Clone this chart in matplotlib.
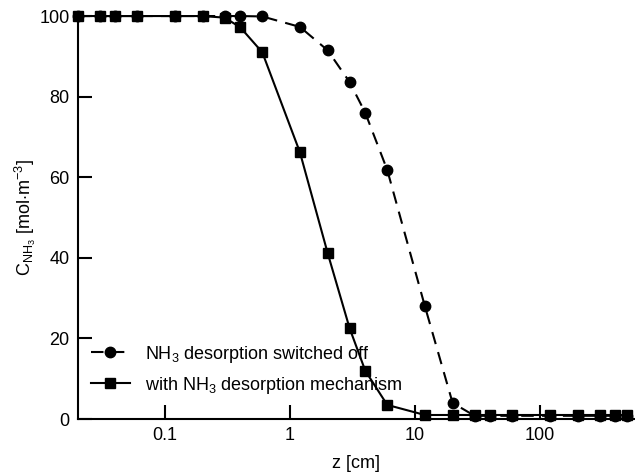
import matplotlib
matplotlib.use("Agg")
import matplotlib.pyplot as plt

plt.rcParams['font.family'] = ['Liberation Sans', 'DejaVu Sans']
plt.rcParams['mathtext.fontset'] = 'custom'
plt.rcParams['mathtext.rm'] = 'Liberation Sans'
plt.rcParams['mathtext.it'] = 'Liberation Sans'

# desorption switched off (dashed, circles)
z_off = [0.02, 0.03, 0.04, 0.06, 0.12, 0.2, 0.3, 0.4, 0.6, 1.2, 2, 3, 4, 6,
         12, 20, 30, 40, 60, 120, 200, 300, 400, 500]
c_off = [100, 100, 100, 100, 100, 100, 100, 100, 99.9, 97.3, 91.5, 83.6, 76.0, 61.8,
         28.0, 4.0, 0.8, 0.8, 0.8, 0.8, 0.8, 0.8, 0.8, 0.8]

# with desorption mechanism (solid, squares)
z_on = [0.02, 0.03, 0.04, 0.06, 0.12, 0.2, 0.3, 0.4, 0.6, 1.2, 2, 3, 4, 6,
        12, 20, 30, 40, 60, 120, 200, 300, 400, 500]
c_on = [100, 100, 100, 100, 100, 100, 99.6, 97.2, 91.0, 66.2, 41.2, 22.5, 12.0, 3.5,
        1.0, 1.0, 1.0, 1.0, 1.0, 1.0, 1.0, 1.0, 1.0, 1.0]

fig = plt.figure(figsize=(6.35, 4.76), dpi=100)
ax = fig.add_axes([0.1228, 0.1197, 0.877, 0.8466])

ax.plot(z_off, c_off, color="black", linestyle=(0, (6, 4)), linewidth=1.5,
        marker="o", markersize=7.5, clip_on=False, zorder=2,
        label="NH$_3$ desorption switched off")
ax.plot(z_on, c_on, color="black", linestyle="-", linewidth=1.5,
        marker="s", markersize=7, clip_on=False, zorder=3,
        label="with NH$_3$ desorption mechanism")

ax.set_xscale("log")
ax.set_xlim(0.0201, 575)
ax.set_ylim(0, 100)
ax.set_xticks([0.1, 1, 10, 100])
ax.set_xticklabels(["0.1", "1", "10", "100"])
ax.set_yticks([0, 20, 40, 60, 80, 100])
ax.minorticks_off()

ax.spines["top"].set_visible(False)
ax.spines["right"].set_visible(False)
for s in ["left", "bottom"]:
    ax.spines[s].set_linewidth(1.5)
ax.tick_params(direction="in", length=10, width=1.5, labelsize=13, pad=6)

ax.set_xlabel("z [cm]", fontsize=13, labelpad=8)
ax.set_ylabel("C$_{\\mathrm{NH_3}}$ [mol$\\cdot$m$^{-3}$]", fontsize=13, labelpad=1)

ax.legend(loc="lower left", bbox_to_anchor=(0.0, 0.027), frameon=False,
          fontsize=13, handlelength=2.2, handletextpad=0.8, labelspacing=0.55,
          borderaxespad=0.3)

fig.savefig("out.png", dpi=100)
